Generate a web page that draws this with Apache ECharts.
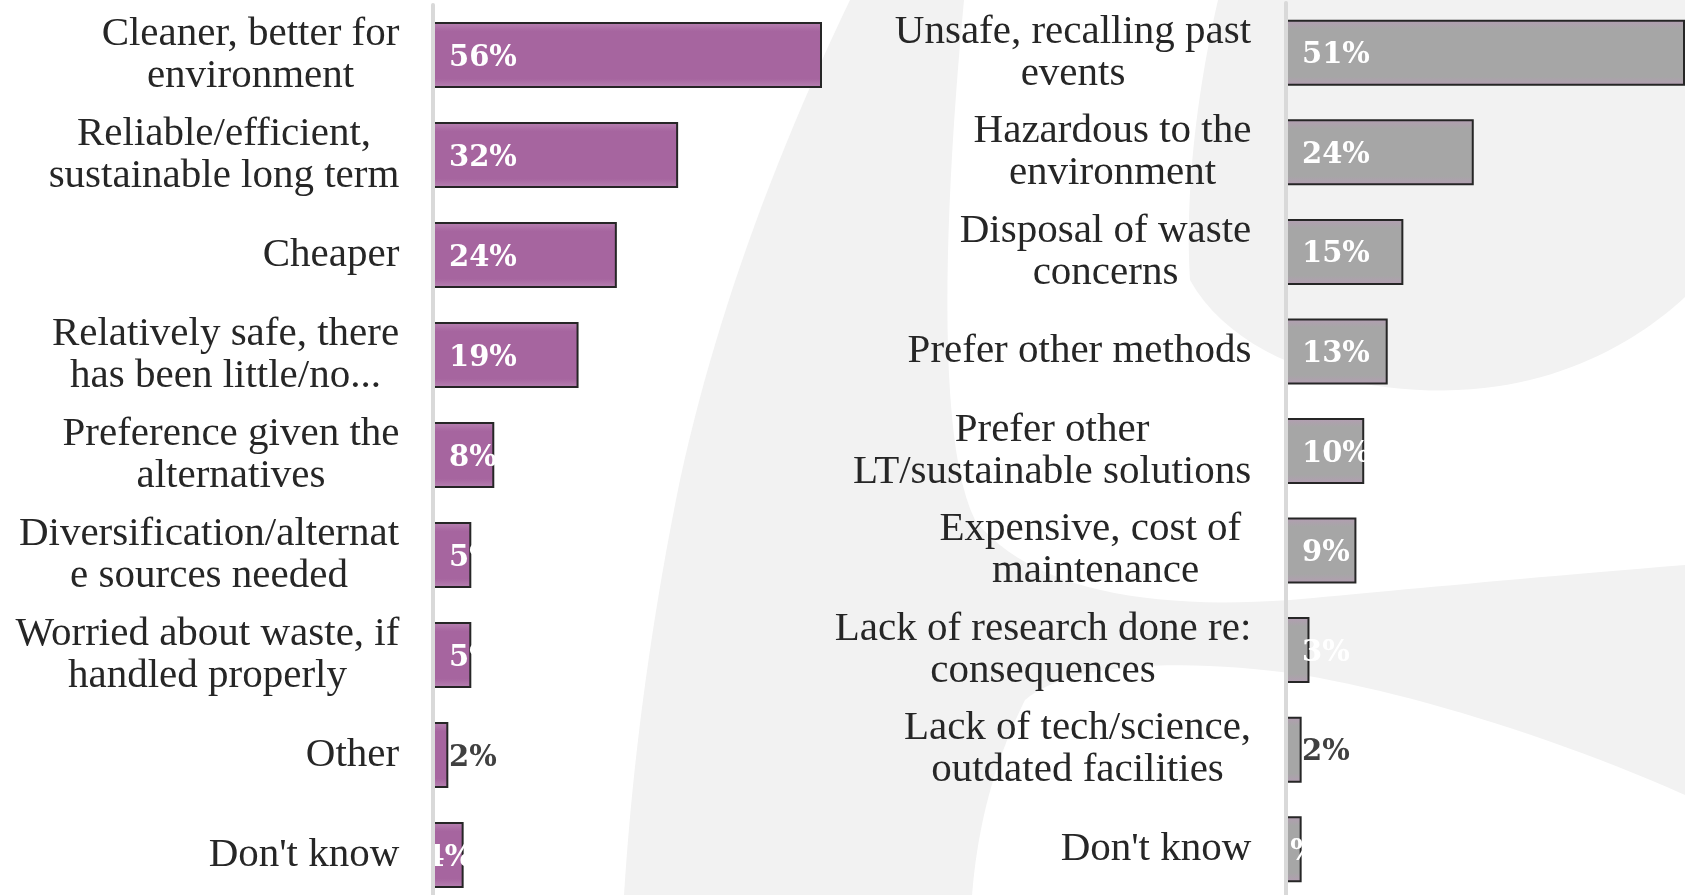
<!DOCTYPE html>
<html>
<head>
<meta charset="utf-8">
<script src="https://cdn.jsdelivr.net/npm/echarts@6/dist/echarts.min.js"></script>
<style>
html,body{margin:0;padding:0;background:#ffffff;overflow:hidden;width:1685px;height:895px;}
#chart{width:1685px;height:912px;}
</style>
</head>
<body>
<div id="chart"></div>
<script>
// ---- Data ----
const leftCategories = [
  'Cleaner, better for\nenvironment',
  'Reliable/efficient,\nsustainable long term',
  'Cheaper',
  'Relatively safe, there\nhas been little/no...',
  'Preference given the\nalternatives',
  'Diversification/alternat\ne sources needed',
  'Worried about waste, if\nhandled properly',
  'Other',
  "Don't know"
];
const leftValues = [56, 32, 24, 19, 8, 5, 5, 2, 4];

const rightCategories = [
  'Unsafe, recalling past\nevents',
  'Hazardous to the\nenvironment',
  'Disposal of waste\nconcerns',
  'Prefer other methods',
  'Prefer other\nLT/sustainable solutions',
  'Expensive, cost of \nmaintenance',
  'Lack of research done re:\nconsequences',
  'Lack of tech/science,\noutdated facilities',
  "Don't know"
];
const rightValues = [51, 24, 15, 13, 10, 9, 3, 2, 2];

// ---- Styling helpers ----
const CAT_FONT = 'Liberation Serif';
const CAT_SIZE = 41;
const CAT_LH = 42;
const measureCtx = document.createElement('canvas').getContext('2d');
measureCtx.font = CAT_SIZE + 'px "' + CAT_FONT + '"';

function richFor(cats, prefix) {
  const rich = {};
  cats.forEach((c, i) => {
    const w = Math.max.apply(null, c.split('\n').map(l => measureCtx.measureText(l).width));
    rich[prefix + i] = {
      width: Math.ceil(w) + 1,
      align: 'center',
      fontFamily: CAT_FONT,
      fontSize: CAT_SIZE,
      lineHeight: CAT_LH,
      color: '#262626'
    };
  });
  return rich;
}
function fmtFor(cats, prefix) {
  return function (value) {
    const i = cats.indexOf(value);
    return value.split('\n').map(l => '{' + prefix + i + '|' + l + '}').join('\n');
  };
}

function vGrad(edge, mid) {
  return {
    type: 'linear', x: 0, y: 0, x2: 0, y2: 1,
    colorStops: [
      { offset: 0, color: edge },
      { offset: 0.14, color: mid },
      { offset: 0.86, color: mid },
      { offset: 1, color: edge }
    ]
  };
}
const purpleGrad = vGrad('#b883b2', '#a6659f');
const grayGrad = vGrad('#b49db3', '#a6a6a6');

const labelBase = {
  show: true,
  position: 'insideLeft',
  distance: 16,
  offset: [0, 3],
  formatter: '{c}%',
  color: '#ffffff',
  fontFamily: 'DejaVu Serif',
  fontWeight: 'bold',
  fontSize: 29
};
const leftLabelOverride = { 7: { color: '#404040' }, 8: { position: 'inside' } };
const rightLabelOverride = { 7: { color: '#404040' }, 8: { position: 'inside' } };

function buildData(values, overrides) {
  return values.map((v, i) => overrides[i] ? { value: v, label: overrides[i] } : v);
}

// ---- Watermark: simple path-to-polygon sampler (decorative background) ----
function pathToPoints(d) {
  const t = d.trim().split(/[\s,]+/);
  const pts = [];
  let i = 0, cx = 0, cy = 0, cmd = '';
  const N = 24;
  while (i < t.length) {
    if (/[MLQCZ]/.test(t[i])) { cmd = t[i]; i++; }
    if (cmd === 'Z') break;
    if (cmd === 'M' || cmd === 'L') {
      cx = +t[i]; cy = +t[i + 1]; i += 2; pts.push([cx, cy]);
    } else if (cmd === 'Q') {
      const x1 = +t[i], y1 = +t[i + 1], x2 = +t[i + 2], y2 = +t[i + 3]; i += 4;
      for (let k = 1; k <= N; k++) {
        const s = k / N, u = 1 - s;
        pts.push([u * u * cx + 2 * u * s * x1 + s * s * x2, u * u * cy + 2 * u * s * y1 + s * s * y2]);
      }
      cx = x2; cy = y2;
    } else if (cmd === 'C') {
      const x1 = +t[i], y1 = +t[i + 1], x2 = +t[i + 2], y2 = +t[i + 3], x3 = +t[i + 4], y3 = +t[i + 5]; i += 6;
      for (let k = 1; k <= N; k++) {
        const s = k / N, u = 1 - s;
        pts.push([
          u * u * u * cx + 3 * u * u * s * x1 + 3 * u * s * s * x2 + s * s * s * x3,
          u * u * u * cy + 3 * u * u * s * y1 + 3 * u * s * s * y2 + s * s * s * y3
        ]);
      }
      cx = x3; cy = y3;
    } else { i++; }
  }
  return pts;
}
const wmOuter = 'M 850 0 Q 730 250 680 480 Q 635 700 623 912 L 1685 912 L 1685 0 Z';
const wmHole1 = 'M 964 0 L 1218 0 C 1195 100 1185 200 1190 280 C 1240 370 1380 400 1484 388 C 1580 378 1650 330 1685 297 L 1685 565 C 1500 580 1380 592 1290 600 C 1150 610 1030 590 975 520 C 935 440 945 200 964 0 Z';
const wmHole2 = 'M 1685 795 C 1550 735 1400 690 1290 673 C 1150 655 1060 670 1025 700 C 995 760 975 830 971 912 L 1685 912 Z';

const chart = echarts.init(document.getElementById('chart'), null, { renderer: 'canvas' });

const option = {
  backgroundColor: '#ffffff',
  animation: false,
  graphic: [
    { type: 'polygon', z: -10, silent: true, shape: { points: pathToPoints(wmOuter) }, style: { fill: '#f2f2f2' } },
    { type: 'polygon', z: -9, silent: true, shape: { points: pathToPoints(wmHole1) }, style: { fill: '#ffffff' } },
    { type: 'polygon', z: -9, silent: true, shape: { points: pathToPoints(wmHole2) }, style: { fill: '#ffffff' } }
  ],
  grid: [
    { left: 433, top: 5, width: 821 - 433, height: 900 },
    { left: 1286, top: 3, width: 406, height: 896 }
  ],
  xAxis: [
    { type: 'value', gridIndex: 0, min: 0, max: 50.65, show: false },
    { type: 'value', gridIndex: 1, min: 0, max: 51, show: false }
  ],
  yAxis: [
    {
      type: 'category', gridIndex: 0, inverse: true, data: leftCategories, z: 10,
      axisLine: { show: true, lineStyle: { color: '#d9d9d9', width: 4 } },
      axisTick: { show: false },
      axisLabel: { margin: 33, formatter: fmtFor(leftCategories, 'l'), rich: richFor(leftCategories, 'l') }
    },
    {
      type: 'category', gridIndex: 1, inverse: true, data: rightCategories, z: 10,
      axisLine: { show: true, lineStyle: { color: '#d9d9d9', width: 4 } },
      axisTick: { show: false },
      axisLabel: { margin: 34, formatter: fmtFor(rightCategories, 'r'), rich: richFor(rightCategories, 'r') }
    }
  ],
  series: [
    {
      type: 'bar', xAxisIndex: 0, yAxisIndex: 0, barWidth: 66, clip: true,
      data: buildData(leftValues, leftLabelOverride),
      itemStyle: { color: purpleGrad, borderColor: '#262626', borderWidth: 2 },
      label: labelBase
    },
    {
      type: 'bar', xAxisIndex: 1, yAxisIndex: 1, barWidth: 66, clip: true,
      data: buildData(rightValues, rightLabelOverride),
      itemStyle: { color: grayGrad, borderColor: '#262626', borderWidth: 2 },
      label: labelBase
    }
  ]
};
chart.setOption(option);
</script>
</body>
</html>
